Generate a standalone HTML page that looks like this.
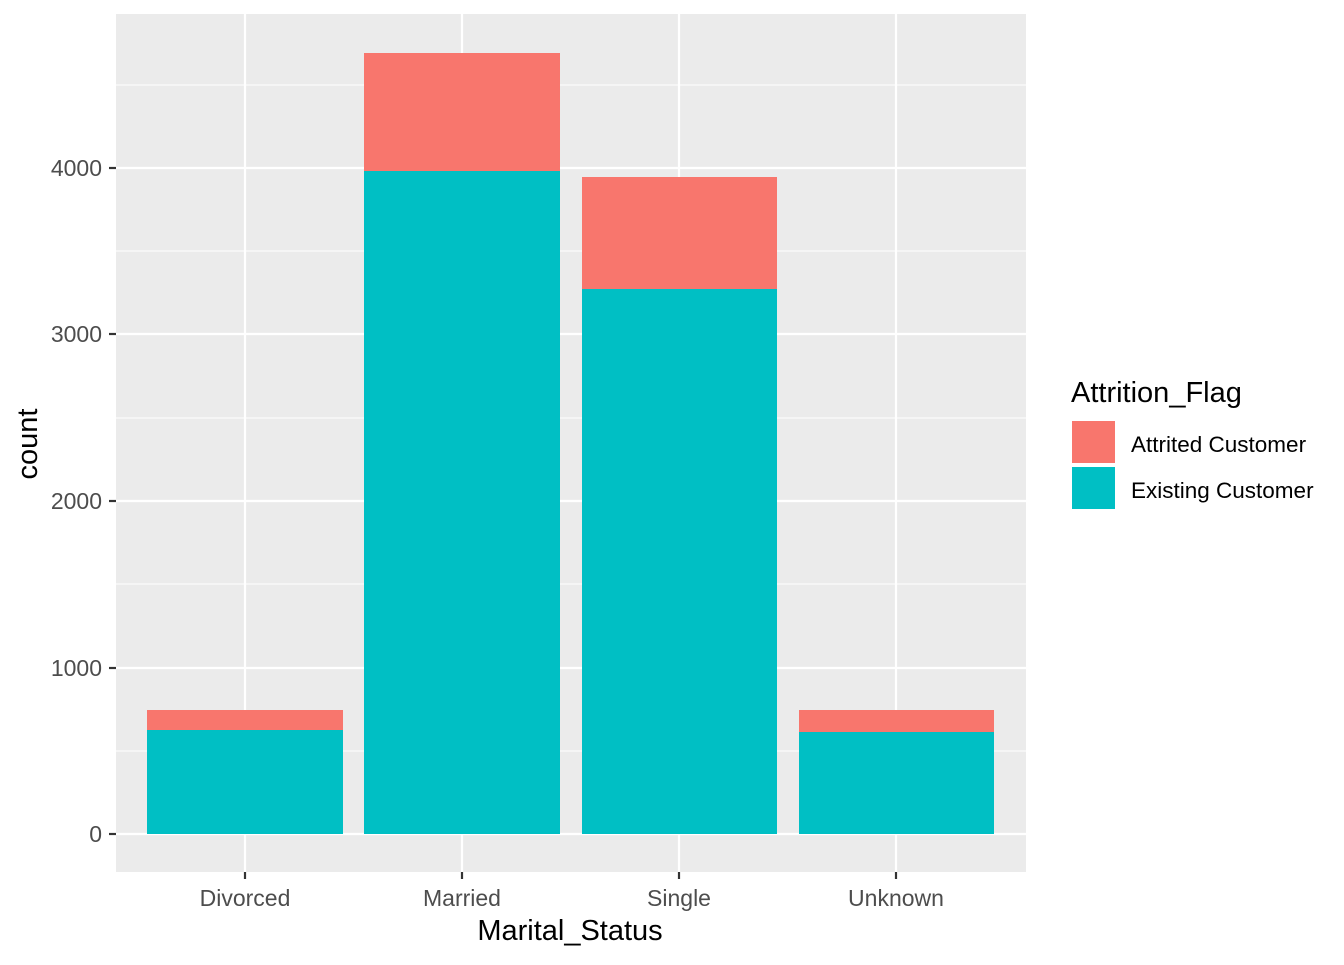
<!DOCTYPE html>
<html><head><style>body{margin:0;background:#fff}</style></head><body>
<svg width="1344" height="960" xmlns="http://www.w3.org/2000/svg" font-family="Liberation Sans, sans-serif">
<rect x="116" y="14" width="910" height="858" fill="#ebebeb"/>
<g stroke="#fff" stroke-width="1.1">
<line x1="116" x2="1026" y1="751" y2="751"/><line x1="116" x2="1026" y1="584" y2="584"/>
<line x1="116" x2="1026" y1="418" y2="418"/><line x1="116" x2="1026" y1="251" y2="251"/>
<line x1="116" x2="1026" y1="85" y2="85"/>
</g>
<g stroke="#fff" stroke-width="2.2">
<line x1="116" x2="1026" y1="834" y2="834"/><line x1="116" x2="1026" y1="668" y2="668"/>
<line x1="116" x2="1026" y1="501" y2="501"/><line x1="116" x2="1026" y1="334" y2="334"/>
<line x1="116" x2="1026" y1="168" y2="168"/>
<line x1="245" x2="245" y1="14" y2="872"/><line x1="462" x2="462" y1="14" y2="872"/>
<line x1="679" x2="679" y1="14" y2="872"/><line x1="896" x2="896" y1="14" y2="872"/>
</g>
<g fill="#F8766D">
<rect x="147" y="710" width="196" height="20"/><rect x="364" y="53" width="196" height="118"/>
<rect x="582" y="177" width="195" height="112"/><rect x="799" y="710" width="195" height="22"/>
</g>
<g fill="#00BFC4">
<rect x="147" y="730" width="196" height="104"/><rect x="364" y="171" width="196" height="663"/>
<rect x="582" y="289" width="195" height="545"/><rect x="799" y="732" width="195" height="102"/>
</g>
<g stroke="#333" stroke-width="2.2">
<line x1="109" x2="116" y1="834" y2="834"/><line x1="109" x2="116" y1="668" y2="668"/>
<line x1="109" x2="116" y1="501" y2="501"/><line x1="109" x2="116" y1="334" y2="334"/>
<line x1="109" x2="116" y1="168" y2="168"/>
<line x1="245" x2="245" y1="872" y2="879"/><line x1="462" x2="462" y1="872" y2="879"/>
<line x1="679" x2="679" y1="872" y2="879"/><line x1="896" x2="896" y1="872" y2="879"/>
</g>
<g fill="#4d4d4d" font-size="23" text-anchor="end">
<text x="102" y="842">0</text><text x="102" y="676">1000</text><text x="102" y="509">2000</text>
<text x="102" y="342">3000</text><text x="102" y="176">4000</text>
</g>
<g fill="#4d4d4d" font-size="23" text-anchor="middle">
<text x="245" y="906">Divorced</text><text x="462" y="906">Married</text>
<text x="679" y="906">Single</text><text x="896" y="906">Unknown</text>
</g>
<text x="570" y="940" font-size="29" text-anchor="middle">Marital_Status</text>
<text transform="translate(37,444) rotate(-90)" font-size="29" text-anchor="middle">count</text>
<text x="1071" y="402" font-size="29">Attrition_Flag</text>
<rect x="1072" y="421" width="43" height="42" fill="#F8766D"/>
<rect x="1072" y="467" width="43" height="42" fill="#00BFC4"/>
<text x="1131" y="452" font-size="22.5">Attrited Customer</text>
<text x="1131" y="498" font-size="22.5">Existing Customer</text>
</svg>
</body></html>
